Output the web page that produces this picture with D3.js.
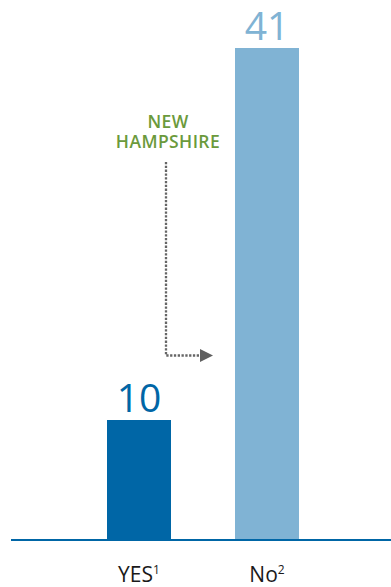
<!DOCTYPE html>
<html><head><meta charset="utf-8">
<script src="https://cdn.jsdelivr.net/npm/d3@7/dist/d3.min.js"></script>
<style>body{margin:0;background:#fff}svg{display:block}</style>
</head><body>
<svg id="c" width="391" height="587"></svg>
<script>
const categories = ["YES", "No"];
const superscripts = ["1", "2"];
const values = [10, 41];
const barColors = ["#0066a6", "#80b3d4"];
const annotationLines = ["NEW", "HAMPSHIRE"];

const svg = d3.select("#c");
const x = d3.scaleBand().domain(categories).range([75, 331]).paddingInner(0.5).paddingOuter(0.25);
const y = d3.scaleLinear().domain([0, 41]).range([540, 48]);

svg.selectAll("rect.bar").data(values).enter().append("rect")
  .attr("x", (d,i) => x(categories[i]))
  .attr("y", d => y(d))
  .attr("width", x.bandwidth())
  .attr("height", d => y(0) - y(d))
  .attr("fill", (d,i) => barColors[i]);

svg.selectAll("text.val").data(values).enter().append("text")
  .attr("x", (d,i) => x(categories[i]) + x.bandwidth()/2)
  .attr("y", d => y(d) - 8)
  .attr("text-anchor", "middle")
  .attr("font-family", "Open Sans, sans-serif")
  .attr("font-size", 39)
  .attr("fill", (d,i) => barColors[i])
  .text(d => d);

svg.append("line").attr("x1", 11).attr("x2", 391).attr("y1", y(0)).attr("y2", y(0))
  .attr("stroke", "#0066a6").attr("stroke-width", 2);

const lbl = svg.selectAll("text.cat").data(categories).enter().append("text")
  .attr("x", d => x(d) + x.bandwidth()/2)
  .attr("y", 582)
  .attr("text-anchor", "middle")
  .attr("font-family", "Open Sans, sans-serif")
  .attr("font-size", 21)
  .attr("fill", "#1a1a1a");
lbl.append("tspan").text(d => d);
lbl.append("tspan").attr("font-size", 12).attr("dy", -8).text((d,i) => superscripts[i]);

svg.selectAll("text.ann").data(annotationLines).enter().append("text")
  .attr("x", 168)
  .attr("y", (d,i) => 128 + i*20)
  .attr("text-anchor", "middle")
  .attr("font-family", "Open Sans, sans-serif")
  .attr("font-weight", 600)
  .attr("font-size", 17.5)
  .attr("letter-spacing", 0.4)
  .attr("fill", "#6b9a3c")
  .text(d => d);

svg.append("path")
  .attr("d", "M166,162 L166,355.5 L200,355.5")
  .attr("fill", "none")
  .attr("stroke", "#666")
  .attr("stroke-width", 2.3)
  .attr("stroke-dasharray", "2.3,1.5");
svg.append("path").attr("d", "M200,349 L213,355.5 L200,362 Z").attr("fill", "#5f5f5f");
</script>
</body></html>
